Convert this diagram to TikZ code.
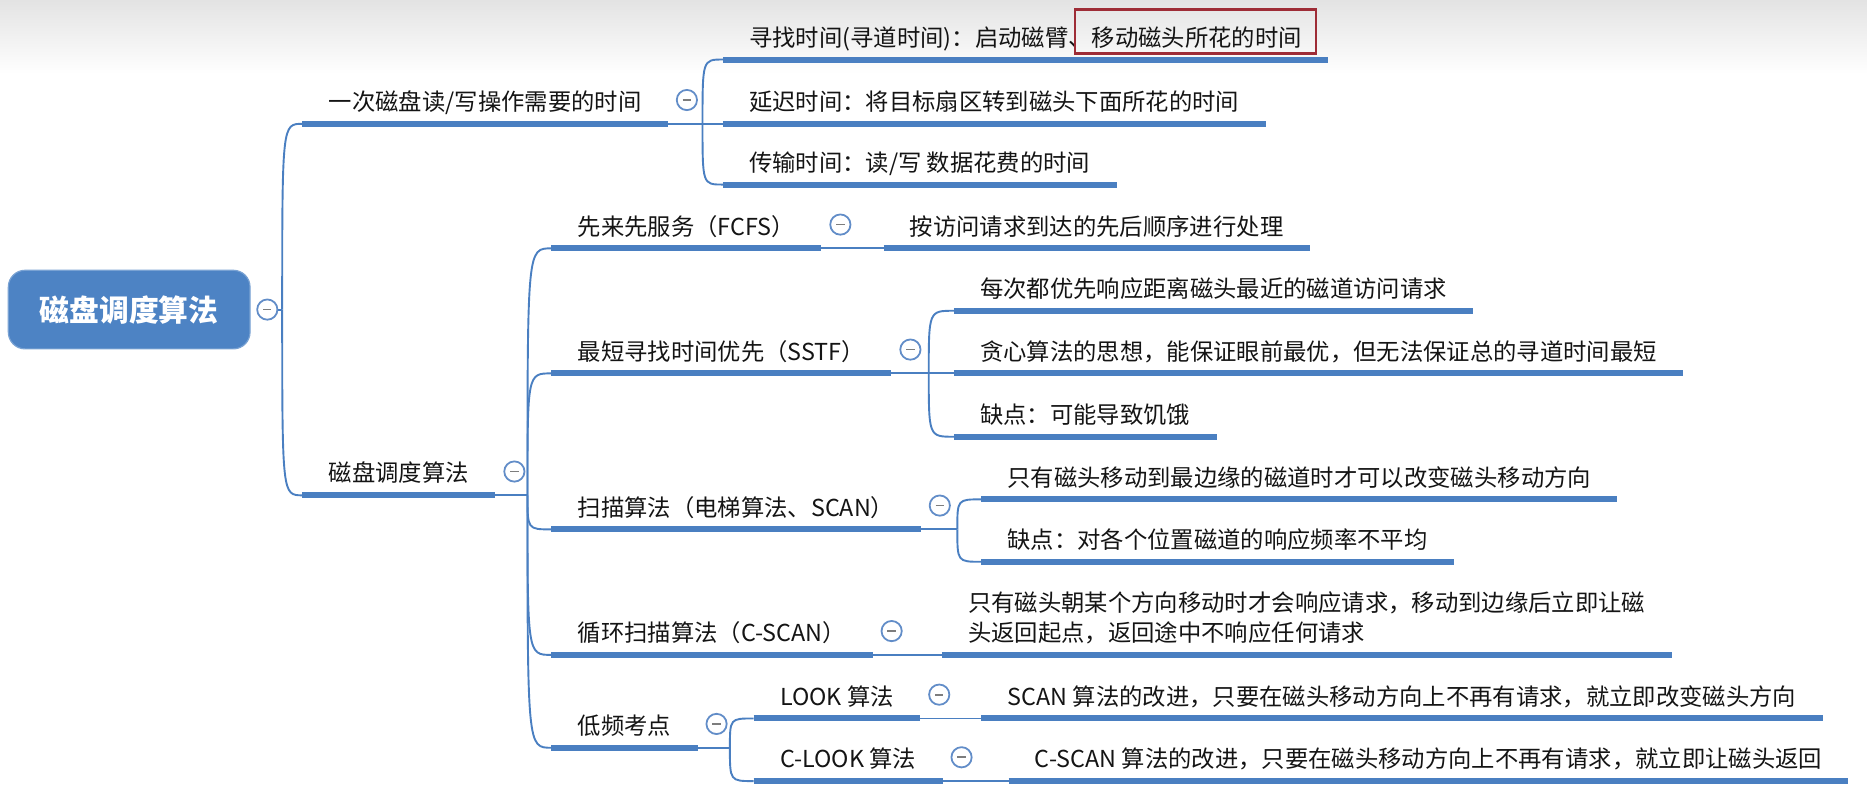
\documentclass[tikz,border=0pt]{standalone}
\usepackage{fontspec}
\setmainfont{Noto Sans CJK SC}
\usepackage{tikz}
\usetikzlibrary{calc}
\definecolor{mapblue}{RGB}{74,127,193}
\definecolor{rootblue}{RGB}{77,131,196}
\definecolor{foldblue}{RGB}{98,141,200}
\definecolor{minusgray}{RGB}{125,125,125}
\definecolor{inkgray}{RGB}{20,20,20}
\definecolor{markred}{RGB}{158,44,54}
\tikzstyle{topic} = [anchor=south west, inner xsep=22pt, inner ysep=7pt, text height=15pt, text depth=4pt, text=inkgray, font=\fontsize{19.6pt}{25pt}\selectfont]
\tikzstyle{rootbox} = [rectangle, rounded corners=14pt, fill=rootblue, draw=rootblue!75!white, line width=1pt, minimum width=203pt, minimum height=66pt, text=white, font=\fontsize{25pt}{30pt}\selectfont\bfseries]
\tikzstyle{uline} = [line width=5pt, mapblue]
\tikzstyle{branch} = [line width=1.6pt, mapblue]
\tikzstyle{fold} = [circle, draw=foldblue, line width=1.5pt, fill=white, minimum size=17pt, inner sep=0pt]
\newcommand{\foldmark}{\textcolor{minusgray}{\rule{7pt}{1.5pt}}}

\begin{document}
\begin{tikzpicture}[x=1pt,y=-1pt]
\useasboundingbox (0,0) rectangle (1568,668);
\shade[top color=gray!22, bottom color=white] (0,0) rectangle (1568,62);

\node[rootbox] (root) at (108.5,260) {磁盘调度算法};
\node[fold] (froot) at ($(root.east)+(14,0)$) {\foldmark};

\node[topic] (A) at (254,104) {一次磁盘读/写操作需要的时间};
\node[topic] (B) at (254,416) {磁盘调度算法};

\node[topic] (a1) at (607,50) {寻找时间(寻道时间)：启动磁臂、移动磁头所花的时间};
\node[topic] (a2) at (607,104) {延迟时间：将目标扇区转到磁头下面所花的时间};
\node[topic] (a3) at (607,155) {传输时间：读/写 数据花费的时间};

\node[topic] (fcfs) at (463,208.6) {先来先服务（FCFS）};
\node[topic] (sstf) at (463,313.6) {最短寻找时间优先（SSTF）};
\node[topic] (scan) at (463,444.6) {扫描算法（电梯算法、SCAN）};
\node[topic] (cscan) at (463,550) {循环扫描算法（C-SCAN）};
\node[topic] (low) at (463,628) {低频考点};

\node[topic] (fcfsL) at (742,208.6) {按访问请求到达的先后顺序进行处理};
\node[topic] (sstf1) at (801,261) {每次都优先响应距离磁头最近的磁道访问请求};
\node[topic] (sstf2) at (801,313.6) {贪心算法的思想，能保证眼前最优，但无法保证总的寻道时间最短};
\node[topic] (sstf3) at (801,366.8) {缺点：可能导致饥饿};
\node[topic] (scan1) at (824,419.4) {只有磁头移动到最边缘的磁道时才可以改变磁头移动方向};
\node[topic] (scan2) at (824,471.8) {缺点：对各个位置磁道的响应频率不平均};
\node[topic] (cscanL) at (791,550) {\begin{tabular}[b]{@{}l@{}}只有磁头朝某个方向移动时才会响应请求，移动到边缘后立即让磁\\头返回起点，返回途中不响应任何请求\end{tabular}};
\node[topic] (look) at (633,603.4) {LOOK 算法};
\node[topic] (clook) at (633,656) {C-LOOK 算法};
\node[topic] (lookL) at (824,603.4) {SCAN 算法的改进，只要在磁头移动方向上不再有请求，就立即改变磁头方向};
\node[topic] (clookL) at (847,656) {C-SCAN 算法的改进，只要在磁头移动方向上不再有请求，就立即让磁头返回};

\coordinate (jr) at (237,260);
\coordinate (jA) at (590,104);
\coordinate (jB) at (443,416);
\coordinate (jS) at (780,313.6);
\coordinate (jN) at (804,444.6);
\coordinate (jL) at (613,628);

\draw[branch] (froot.east) -- (jr);
\foreach \c in {A,B}
  \draw[branch] (jr) .. controls (jr |- \c.south west) .. (\c.south west);
\draw[branch] (A.south east) -- (jA);
\foreach \c in {a1,a2,a3}
  \draw[branch] (jA) .. controls (jA |- \c.south west) .. (\c.south west);
\draw[branch] (B.south east) -- (jB);
\foreach \c in {fcfs,sstf,scan,cscan,low}
  \draw[branch] (jB) .. controls (jB |- \c.south west) .. (\c.south west);
\draw[branch] (sstf.south east) -- (jS);
\foreach \c in {sstf1,sstf2,sstf3}
  \draw[branch] (jS) .. controls (jS |- \c.south west) .. (\c.south west);
\draw[branch] (scan.south east) -- (jN);
\foreach \c in {scan1,scan2}
  \draw[branch] (jN) .. controls (jN |- \c.south west) .. (\c.south west);
\draw[branch] (low.south east) -- (jL);
\foreach \c in {look,clook}
  \draw[branch] (jL) .. controls (jL |- \c.south west) .. (\c.south west);
\draw[branch] (fcfs.south east) -- (fcfsL.south west);
\draw[branch] (cscan.south east) -- (cscanL.south west);
\draw[branch] (look.south east) -- (lookL.south west);
\draw[branch] (clook.south east) -- (clookL.south west);

\foreach \n in {A,B,a1,a2,a3,fcfs,sstf,scan,cscan,low,fcfsL,sstf1,sstf2,sstf3,scan1,scan2,cscanL,look,clook,lookL,clookL}
  \draw[uline] (\n.south west) -- (\n.south east);

\foreach \n in {A,B,fcfs,sstf,scan,cscan,low,look,clook}
  \node[fold] (f\n) at ($(\n.south east)+(16,-20)$) {\foldmark};

\draw[markred, line width=2pt] (903,8) rectangle (1105,45);
\end{tikzpicture}
\end{document}
